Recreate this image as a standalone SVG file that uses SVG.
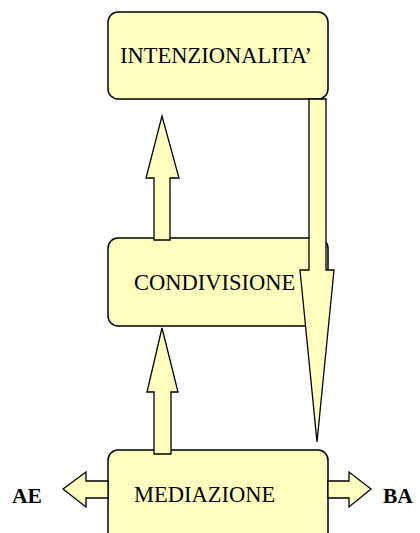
<svg xmlns="http://www.w3.org/2000/svg" width="420" height="533" viewBox="0 0 420 533">
<style>
.box{fill:#FFFFC0;stroke:#000;stroke-width:1.5}
.arr{fill:#FFFFC0;stroke:#000;stroke-width:1.3;stroke-linejoin:miter}
.lbl{font-family:"Liberation Serif","Times New Roman",serif;font-size:22.5px;fill:#000}
.side{font-family:"Liberation Serif","Times New Roman",serif;font-size:21.5px;font-weight:bold;fill:#000}
</style>
<rect width="420" height="533" fill="#fff"/>
<g id="intenzionalita">
<rect class="box" x="108" y="12" width="220" height="87" rx="10"/>
<text class="lbl" x="120" y="63">INTENZIONALITA’</text>
</g>
<g id="condivisione">
<rect class="box" x="108" y="238" width="220" height="88" rx="10"/>
<text class="lbl" x="134" y="290">CONDIVISIONE</text>
</g>
<g id="mediazione">
<rect class="box" x="108" y="450" width="220" height="100" rx="10"/>
<text class="lbl" x="134" y="502">MEDIAZIONE</text>
</g>
<g id="ae"><text class="side" x="12" y="503">AE</text></g>
<g id="ba"><text class="side" x="383" y="503">BA</text></g>
<g id="connectors">
<polygon class="arr" points="154,240 154,178 146,178 162,116 179,178 170,178 170,240"/>
<polygon class="arr" points="154,454 154,392 147,392 162,328 178,392 171,392 171,454"/>
<polygon class="arr" points="309,99 326,99 326,270 334,270 317,442 300,270 309,270"/>
<polygon class="arr" points="108,481 86,481 86,472 63,489 86,507 86,498 108,498"/>
<polygon class="arr" points="328,481 349,481 349,472 371,489 349,507 349,498 328,498"/>
</g>
</svg>
